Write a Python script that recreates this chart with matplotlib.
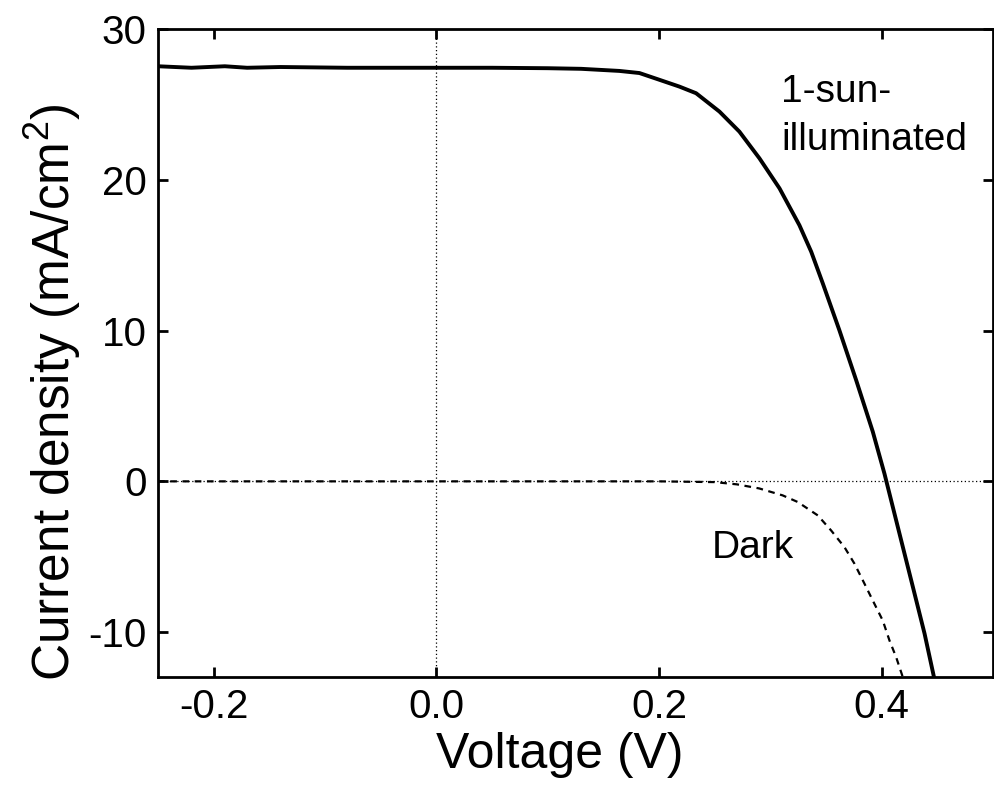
import matplotlib
matplotlib.use("Agg")
import matplotlib.pyplot as plt

plt.rcParams['font.family'] = ['Liberation Sans', 'DejaVu Sans']
plt.rcParams['mathtext.fontset'] = 'custom'
plt.rcParams['mathtext.rm'] = 'Liberation Sans'
plt.rcParams['mathtext.it'] = 'Liberation Sans'
plt.rcParams['axes.unicode_minus'] = False

# Data
illum_v = [-0.25, -0.22, -0.19, -0.17, -0.14, -0.08, 0.0, 0.05, 0.1, 0.13,
           0.1644, 0.1824, 0.2004, 0.2183, 0.2333, 0.2543, 0.2722, 0.2902,
           0.3082, 0.3261, 0.3367, 0.3471, 0.362, 0.3771, 0.392, 0.4025,
           0.416, 0.428, 0.4385, 0.447]
illum_j = [27.55, 27.45, 27.55, 27.45, 27.5, 27.45, 27.45, 27.45, 27.42, 27.38,
           27.24, 27.1, 26.65, 26.2, 25.76, 24.54, 23.21, 21.44,
           19.45, 17.0, 15.24, 13.14, 10.03, 6.71, 3.3, 0.51,
           -3.47, -7.0, -10.1, -13.0]

dark_v = [-0.25, 0.0, 0.2, 0.25, 0.27, 0.29, 0.311, 0.3246, 0.3426, 0.3546,
          0.3666, 0.3756, 0.3846, 0.3935, 0.401, 0.407, 0.413, 0.419]
dark_j = [0.0, 0.0, 0.0, -0.05, -0.2, -0.47, -0.93, -1.37, -2.26, -3.26,
          -4.37, -5.47, -6.8, -8.13, -9.24, -10.56, -11.67, -13.0]

x_ticks = [-0.2, 0.0, 0.2, 0.4]
x_tick_labels = ['-0.2', '0.0', '0.2', '0.4']
y_ticks = [-10, 0, 10, 20, 30]

fig = plt.figure(figsize=(9.94, 7.93), dpi=100)
ax = fig.add_axes([0.159, 0.146, 0.840, 0.817])

ax.axhline(0, color='black', linestyle=(0, (1, 2)), linewidth=0.9, zorder=1)
ax.axvline(0, color='black', linestyle=(0, (1, 2)), linewidth=0.9, zorder=1)

ax.plot(dark_v, dark_j, color='black', linestyle=(0, (3, 2.5)), linewidth=1.6, zorder=2)
ax.plot(illum_v, illum_j, color='black', linestyle='-', linewidth=2.8, zorder=3,
        solid_joinstyle='round')

ax.set_xlim(-0.25, 0.5)
ax.set_ylim(-13, 30)
ax.set_xticks(x_ticks)
ax.set_xticklabels(x_tick_labels)
ax.set_yticks(y_ticks)

ax.tick_params(direction='in', length=7, width=2, labelsize=29,
               top=True, right=True, pad=8)
for s in ax.spines.values():
    s.set_linewidth(2)

ax.set_xlabel('Voltage (V)', fontsize=36)
ax.xaxis.set_label_coords(0.481, -0.085)
ax.set_ylabel('Current density (mA/cm$^\\mathregular{2}$)', fontsize=37)
ax.yaxis.set_label_coords(-0.09, 0.44)

ax.text(0.31, 25.2, '1-sun-', fontsize=28, ha='left', va='baseline')
ax.text(0.31, 22.0, 'illuminated', fontsize=28, ha='left', va='baseline')
ax.text(0.247, -5.1, 'Dark', fontsize=28, ha='left', va='baseline')

fig.savefig('out.png', dpi=100)
